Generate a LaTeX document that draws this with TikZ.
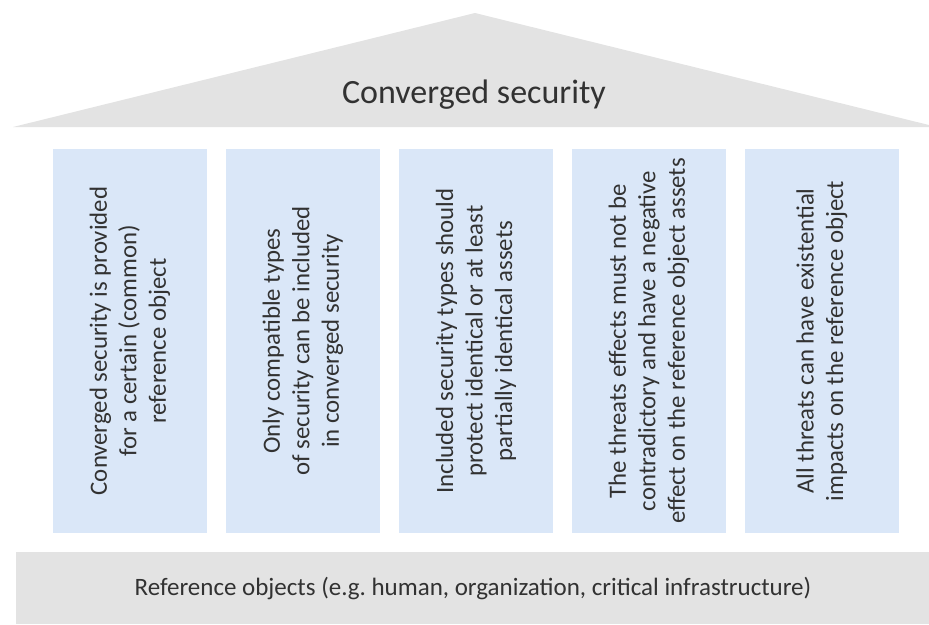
\documentclass[tikz,border=0pt]{standalone}
\usepackage{fontspec}
\setmainfont{Carlito}
\frenchspacing
\definecolor{roofgray}{RGB}{227,227,227}
\definecolor{colblue}{RGB}{218,231,248}
\definecolor{txt}{RGB}{50,50,50}
\begin{document}
\begin{tikzpicture}[x=1pt,y=-1pt,
  colbox/.style={fill=colblue, rotate=90, minimum width=384pt, minimum height=154pt,
    inner sep=0pt, align=center, text=txt, font=\fontsize{24.8}{29.5}\selectfont},
  basebox/.style={fill=roofgray, minimum width=914pt, minimum height=72pt, inner sep=0pt,
    text=txt, font=\fontsize{25}{30}\selectfont},
  titletext/.style={text=txt, font=\fontsize{34}{40}\selectfont, inner sep=0pt}]
\useasboundingbox (0,0) rectangle (929,624);
% roof
\fill[roofgray] (13,127) -- (475,13) -- (937,127) -- cycle;
\node[titletext, anchor=base] (title) at (474,103) {Converged security};
% columns
\node[colbox] (c1) at (130,341) {Converged security is provided\\for a certain (common)\\reference object};
\node[colbox] (c2) at (303,341) {Only compatible types\\of security can be included\\in converged security};
\node[colbox] (c3) at (476,341) {Included security types should\\protect identical or at least\\partially identical assets};
\node[colbox] (c4) at (649,341) {The threats effects must not be\\contradictory and have a negative\\effect on the reference object assets};
\node[colbox] (c5) at (822,341) {All threats can have existential\\impacts on the reference object};
% base
\node[basebox] (base) at (473,588) {Reference objects (e.g.\ human, organization, critical infrastructure)};
\end{tikzpicture}
\end{document}
